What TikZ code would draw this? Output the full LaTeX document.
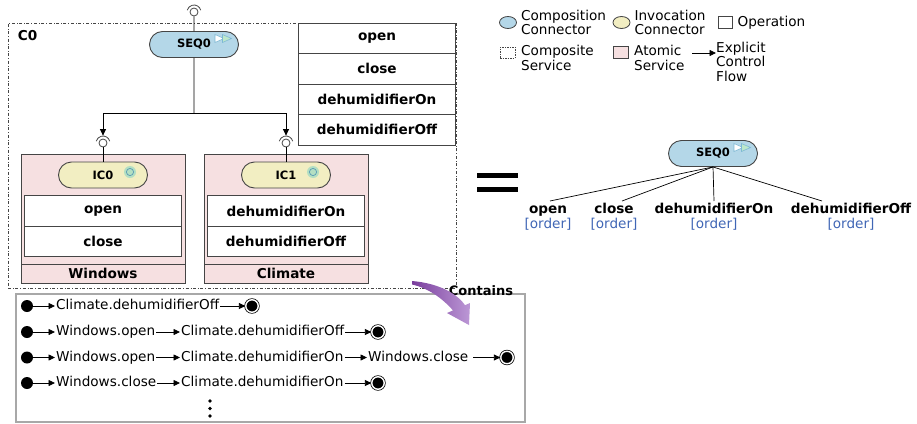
\documentclass[tikz,border=0pt]{standalone}
\usepackage{fontspec}
\setmainfont{DejaVu Sans}
\usetikzlibrary{shapes,arrows,arrows.meta,positioning,calc}
\definecolor{compblue}{HTML}{B4D7E8}
\definecolor{invyellow}{HTML}{F2EEC2}
\definecolor{atompink}{HTML}{F6E0E1}
\definecolor{ordblue}{HTML}{4066B5}
\definecolor{edgegray}{HTML}{454545}
\definecolor{boxgray}{HTML}{A8A8A8}
\definecolor{arrowdark}{HTML}{7A3E9D}
\definecolor{arrowlight}{HTML}{BC98D6}
\definecolor{glowgreen}{HTML}{B4DFC2}
\definecolor{ringteal}{HTML}{5A9CB5}
\definecolor{playblue}{HTML}{7DB8D4}
\definecolor{playgreen}{HTML}{BDE8CB}
\newcommand{\connfont}{\fontsize{11.5}{12}\selectfont\bfseries}
\newcommand{\socketarc}[1]{\draw [edgegray, line width=0.8pt] (#1.center) ++(15:7) arc (15:165:7);}
\newcommand{\seqicon}[1]{%
  \draw [playblue, fill=white, line width=0.6pt] ($(#1.center)+(21,2)$) -- ++(0,8) -- ++(9,-4) -- cycle;
  \draw [playblue, fill=playgreen, line width=0.6pt] ($(#1.center)+(28.5,2)$) -- ++(0,8) -- ++(9,-4) -- cycle;}
\newcommand{\invicon}[1]{%
  \fill [glowgreen] ($(#1.center)+(27,3)$) circle (6);
  \draw [ringteal, line width=0.7pt] ($(#1.center)+(27,3)$) circle (3.6);}
\tikzstyle{composite} = [rectangle, draw=edgegray, dash dot, line width=0.7pt, minimum width=448pt, minimum height=265pt]
\tikzstyle{atomic} = [rectangle, draw=edgegray, fill=atompink, line width=0.9pt, minimum width=164pt, minimum height=129pt]
\tikzstyle{band} = [rectangle, draw=edgegray, fill=atompink, line width=0.9pt, minimum width=164pt, minimum height=19pt, font=\bfseries, inner sep=0pt]
\tikzstyle{opbox} = [rectangle, draw=edgegray, fill=white, line width=0.8pt, minimum width=157.5pt, minimum height=30.5pt, font=\bfseries, inner sep=0pt, node distance=30.5pt]
\tikzstyle{conn} = [rounded rectangle, draw=edgegray, line width=0.9pt, minimum width=89pt, minimum height=26pt, font=\connfont, inner sep=0pt]
\tikzstyle{sock} = [circle, draw=edgegray, fill=white, line width=0.8pt, minimum size=8pt, inner sep=0pt]
\tikzstyle{line} = [draw, line width=0.8pt, -{Triangle[length=6.5pt, width=6pt]}]
\tikzstyle{trace} = [anchor=west, inner sep=1pt, text height=10pt, text depth=3pt]
\tikzstyle{startst} = [circle, fill=black, minimum size=12pt, inner sep=0pt]
\tikzstyle{endst} = [circle, draw, fill=black, double=white, double distance=1.4pt, line width=0.75pt, minimum size=12.5pt, inner sep=0pt]
\tikzstyle{legtext} = [anchor=west, align=left, inner sep=0pt]
\tikzstyle{leaf} = [font=\bfseries, inner sep=0pt, text height=10pt, text depth=3pt, outer sep=2pt]
\tikzstyle{ordertag} = [text=ordblue, inner sep=0pt]
\tikzstyle{tracebox} = [draw=boxgray, line width=1.1pt, minimum width=509pt, minimum height=128pt, inner sep=0pt]

\begin{document}
\begin{tikzpicture}[x=1pt,y=1pt]
\fontsize{13.6}{14.5}\selectfont
\useasboundingbox (0,0) rectangle (917,-423);

% composite service
\node [composite] (c0) at (232,-155.5) {};
\node [font=\bfseries, inner sep=0pt, below right=8pt and 10pt of c0.north west] (c0_name) {C0};

\node [opbox] (c0_open) at (377,-38.25) {open};
\node [opbox, below of=c0_open] (c0_close) {close};
\node [opbox, below of=c0_close] (c0_on) {dehumidifierOn};
\node [opbox, below of=c0_on] (c0_off) {dehumidifierOff};

\node [conn, fill=compblue] (seq0) at (194,-44.5) {SEQ0};
\seqicon{seq0}
\node [sock] (sock_top) at (194,-12) {};
\socketarc{sock_top}

% atomic services
\node [atomic] (windows) at (103,-218.5) {};
\node [band, anchor=south] (windows_name) at (windows.south) {Windows};
\node [conn, fill=invyellow, below=8pt of windows.north] (ic0) {IC0};
\invicon{ic0}
\node [opbox, below=7pt of ic0] (w_open) {open};
\node [opbox, below of=w_open] (w_close) {close};

\node [atomic] (climate) at (286,-218.5) {};
\node [band, anchor=south] (climate_name) at (climate.south) {Climate};
\node [conn, fill=invyellow, below=8pt of climate.north] (ic1) {IC1};
\invicon{ic1}
\node [opbox, below=7pt of ic1] (cl_on) {dehumidifierOn};
\node [opbox, below of=cl_on] (cl_off) {dehumidifierOff};

\node [sock] (sock0) at (103,-143) {};
\socketarc{sock0}
\node [sock] (sock1) at (286,-143) {};
\socketarc{sock1}
\coordinate (fork) at (194,-113);

% arrows
\path [draw, line width=0.8pt] (sock_top) -- (seq0);
\path [draw, line width=0.8pt] (seq0) -- (fork);
\path [line, shorten >=3pt] (fork) -| (sock0.north);
\path [line, shorten >=3pt] (fork) -| (sock1.north);
\path [draw, line width=0.8pt] (sock0) -- (ic0);
\path [draw, line width=0.8pt] (sock1) -- (ic1);

% equivalent tree
\fill (477,-172.5) rectangle (518,-177.5);
\fill (477,-186.5) rectangle (518,-191.5);

\node [conn, fill=compblue] (seq0r) at (713,-153.5) {SEQ0};
\seqicon{seq0r}
\node [leaf, anchor=base] (r_open) at (548,-213) {open};
\node [leaf, anchor=base] (r_close) at (614,-213) {close};
\node [leaf, anchor=base] (r_on) at (714,-213) {dehumidifierOn};
\node [leaf, anchor=base] (r_off) at (851,-213) {dehumidifierOff};
\node [ordertag, anchor=base] (r_open_ord) at (548,-228) {[order]};
\node [ordertag, anchor=base] (r_close_ord) at (614,-228) {[order]};
\node [ordertag, anchor=base] (r_on_ord) at (714,-228) {[order]};
\node [ordertag, anchor=base] (r_off_ord) at (851,-228) {[order]};

\path [draw, line width=0.7pt] (seq0r.south) -- ($(r_open.north)+(2,0)$);
\path [draw, line width=0.7pt] (seq0r.south) -- ($(r_close.north)+(8,0)$);
\path [draw, line width=0.7pt] (seq0r.south) -- (r_on.north);
\path [draw, line width=0.7pt] (seq0r.south) -- ($(r_off.north)+(-29,0)$);

% legend
\node [ellipse, draw=edgegray, fill=compblue, minimum width=17pt, minimum height=12pt, inner sep=0pt, line width=0.8pt] (leg_comp) at (508,-22.5) {};
\node [legtext, right=4pt of leg_comp] (leg_comp_txt) {Composition\\Connector};
\node [ellipse, draw=edgegray, fill=invyellow, minimum width=17pt, minimum height=12pt, inner sep=0pt, line width=0.8pt] (leg_inv) at (621.5,-22.5) {};
\node [legtext, right=4pt of leg_inv] (leg_inv_txt) {Invocation\\Connector};
\node [rectangle, draw=edgegray, minimum width=14pt, minimum height=12pt, inner sep=0pt, line width=0.8pt] (leg_op) at (725,-22.5) {};
\node [legtext, right=5pt of leg_op] (leg_op_txt) {Operation};
\node [rectangle, draw=edgegray, dash pattern=on 1.5pt off 1pt, minimum width=15pt, minimum height=11pt, inner sep=0pt, line width=0.7pt] (leg_compos) at (507.5,-52.5) {};
\node [legtext] (leg_compos_txt) at (521,-58) {Composite\\Service};
\node [rectangle, draw=edgegray, fill=atompink, minimum width=15pt, minimum height=12pt, inner sep=0pt, line width=0.8pt] (leg_atom) at (620.5,-52.5) {};
\node [legtext] (leg_atom_txt) at (634,-58) {Atomic\\Service};
\coordinate (flow_start) at (692,-53);
\node [legtext] (leg_flow_txt) at (716,-61.5) {Explicit\\Control\\Flow};
\path [line] (flow_start) -- (flow_start -| leg_flow_txt.west);

% traces
\node [tracebox] (traces) at (270.5,-358) {};

\node [startst] (s1) at (27,-306) {};
\node [trace] (t1a) at (55,-306) {Climate.dehumidifierOff};
\node [endst] (e1) at (252,-306) {};
\path [line] (s1) -- (t1a);
\path [line] (t1a) -- (e1);

\node [startst] (s2) at (27,-332) {};
\node [trace] (t2a) at (55,-332) {Windows.open};
\node [trace] (t2b) at (180,-332) {Climate.dehumidifierOff};
\node [endst] (e2) at (378,-332) {};
\path [line] (s2) -- (t2a);
\path [line] (t2a) -- (t2b);
\path [line] (t2b) -- (e2);

\node [startst] (s3) at (27,-357.5) {};
\node [trace] (t3a) at (55,-357.5) {Windows.open};
\node [trace] (t3b) at (180,-357.5) {Climate.dehumidifierOn};
\node [trace] (t3c) at (367,-357.5) {Windows.close};
\node [endst] (e3) at (507,-357.5) {};
\path [line] (s3) -- (t3a);
\path [line] (t3a) -- (t3b);
\path [line] (t3b) -- (t3c);
\path [line, shorten <=4pt] (t3c) -- (e3);

\node [startst] (s4) at (27,-383) {};
\node [trace] (t4a) at (55,-383) {Windows.close};
\node [trace] (t4b) at (180,-383) {Climate.dehumidifierOn};
\node [endst] (e4) at (378,-383) {};
\path [line] (s4) -- (t4a);
\path [line] (t4a) -- (t4b);
\path [line] (t4b) -- (e4);

\foreach \y in {401,408.5,416} \fill (210,-\y) circle (1.8);

\node [font=\bfseries\fontsize{13}{14}\selectfont, anchor=base] (contains) at (481,-295) {Contains};
\shade [left color=arrowdark, right color=arrowlight] (412,-281) .. controls (436,-283) and (456,-292) .. (465,-305.2) -- (470,-303) -- (469,-325) -- (447,-313) -- (453,-310.4) .. controls (442,-298) and (428,-288) .. (412,-284.5) -- cycle;

\end{tikzpicture}
\end{document}
